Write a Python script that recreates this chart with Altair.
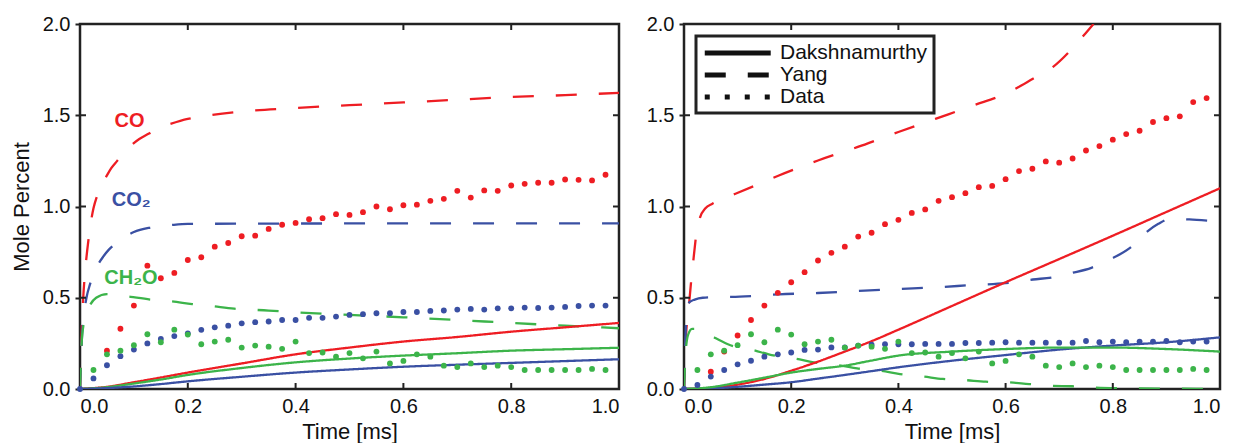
import altair as alt
import pandas as pd

RED = "#ee1d23"
BLUE = "#3a50a3"
GREEN = "#3cb44a"
FONT = "Liberation Sans"

SPECIES = ["CO", "CO2", "CH2O"]
MODELS = ["Dakshnamurthy", "Yang", "Data"]

# experimental sampling times (ms)
data_t = [0.0, 0.025, 0.05, 0.075, 0.1, 0.125, 0.15, 0.175, 0.2, 0.225, 0.25, 0.275,
          0.3, 0.325, 0.35, 0.375, 0.4, 0.425, 0.45, 0.475, 0.5, 0.525, 0.55, 0.575,
          0.6, 0.625, 0.65, 0.675, 0.7, 0.725, 0.75, 0.775, 0.8, 0.825, 0.85, 0.875,
          0.9, 0.925, 0.95, 0.975]

# ---------------- left panel ----------------
a_co_data = [None, None, 0.21, 0.33, 0.457, 0.676, 0.607, 0.636, 0.707, 0.722, 0.78, 0.80,
             0.837, 0.84, 0.877, 0.90, 0.91, 0.93, 0.936, 0.958, 0.954, 0.969, 1.0, 0.985,
             1.007, 1.01, 1.031, 1.042, 1.086, 1.049, 1.088, 1.086, 1.115, 1.124, 1.13, 1.13,
             1.148, 1.146, 1.143, 1.174]
a_co2_data = [0.0, 0.058, 0.13, 0.18, 0.216, 0.25, 0.274, 0.29, 0.305, 0.324, 0.338, 0.347,
              0.36, 0.366, 0.37, 0.378, 0.378, 0.39, 0.39, 0.397, 0.406, 0.41, 0.415, 0.415,
              0.422, 0.422, 0.428, 0.43, 0.435, 0.439, 0.435, 0.442, 0.442, 0.446, 0.444, 0.446,
              0.45, 0.455, 0.457, 0.457]
ch2o_data = [None, 0.104, 0.19, 0.21, 0.24, 0.30, 0.256, 0.325, 0.298, 0.245, 0.26, 0.27,
             0.227, 0.238, 0.232, 0.22, 0.26, 0.197, 0.20, 0.177, 0.197, 0.168, 0.205, 0.14,
             0.154, 0.19, 0.177, 0.128, 0.12, 0.14, 0.12, 0.128, 0.12, 0.104, 0.104, 0.104,
             0.104, 0.104, 0.11, 0.104]

a_co_yang_t = [0, 0.003, 0.006, 0.01, 0.015, 0.02, 0.025, 0.032, 0.04, 0.048, 0.058, 0.069,
               0.08, 0.093, 0.11, 0.128, 0.145, 0.165, 0.2, 0.242, 0.3, 0.4, 0.5, 0.6, 0.7,
               0.8, 0.9, 1.0]
a_co_yang = [0, 0.30, 0.50, 0.66, 0.80, 0.91, 0.99, 1.06, 1.12, 1.16, 1.21, 1.25,
             1.29, 1.33, 1.37, 1.40, 1.43, 1.45, 1.48, 1.50, 1.52, 1.54, 1.555, 1.57, 1.585,
             1.60, 1.61, 1.623]
a_co2_yang_t = [0, 0.003, 0.007, 0.012, 0.0185, 0.025, 0.032, 0.043, 0.054, 0.068, 0.082,
                0.1, 0.131, 0.168, 0.2, 0.5, 1.0]
a_co2_yang = [0, 0.25, 0.40, 0.50, 0.573, 0.63, 0.674, 0.725, 0.765, 0.80, 0.83,
              0.86, 0.885, 0.898, 0.905, 0.907, 0.907]
a_ch2o_yang_t = [0, 0.003, 0.007, 0.012, 0.0185, 0.03, 0.05, 0.07, 0.094, 0.131, 0.171,
                 0.208, 0.242, 0.286, 0.35, 0.4, 0.5, 0.6, 0.7, 0.8, 0.9, 1.0]
a_ch2o_yang = [0, 0.25, 0.36, 0.42, 0.46, 0.50, 0.52, 0.515, 0.505, 0.49, 0.48,
               0.465, 0.455, 0.44, 0.43, 0.42, 0.406, 0.393, 0.378, 0.362, 0.347, 0.333]

dak_t = [0, 0.05, 0.1, 0.15, 0.2, 0.3, 0.4, 0.5, 0.6, 0.7, 0.8, 0.9, 1.0]
a_co_dak = [0, 0.012, 0.037, 0.063, 0.09, 0.14, 0.19, 0.227, 0.26, 0.285, 0.314, 0.338, 0.362]
a_ch2o_dak = [0, 0.01, 0.03, 0.052, 0.077, 0.115, 0.146, 0.167, 0.183, 0.196, 0.21, 0.218, 0.226]
a_co2_dak = [0, 0.005, 0.014, 0.027, 0.042, 0.067, 0.09, 0.107, 0.122, 0.133, 0.143, 0.153, 0.163]

# ---------------- right panel ----------------
b_co_data = [None, None, 0.095, 0.205, 0.293, 0.378, 0.457, 0.527, 0.585, 0.64, 0.704, 0.746,
             0.78, 0.835, 0.856, 0.903, 0.927, 0.965, 0.984, 1.031, 1.051, 1.073, 1.106, 1.113,
             1.15, 1.194, 1.207, 1.247, 1.24, 1.263, 1.307, 1.331, 1.366, 1.397, 1.415, 1.463,
             1.484, 1.494, 1.572, 1.594]
b_co2_data = [0.0, 0.022, 0.068, 0.104, 0.135, 0.155, 0.177, 0.19, 0.20, 0.214, 0.216, 0.228,
              0.228, 0.238, 0.243, 0.245, 0.245, 0.245, 0.247, 0.247, 0.247, 0.252, 0.252, 0.254,
              0.256, 0.254, 0.254, 0.254, 0.254, 0.254, 0.263, 0.256, 0.26, 0.256, 0.26, 0.26,
              0.263, 0.256, 0.26, 0.26]

b_co_yang_t = [0, 0.004, 0.009, 0.013, 0.018, 0.023, 0.03, 0.04, 0.053, 0.075, 0.096, 0.133,
               0.177, 0.25, 0.323, 0.4, 0.469, 0.54, 0.6, 0.651, 0.688, 0.724, 0.746, 0.764]
b_co_yang = [0, 0.30, 0.45, 0.58, 0.72, 0.85, 0.94, 0.99, 1.015, 1.045, 1.07, 1.115,
             1.17, 1.252, 1.325, 1.408, 1.48, 1.554, 1.618, 1.70, 1.764, 1.865, 1.938, 2.0]
b_co2_yang_t = [0, 0.003, 0.005, 0.01, 0.02, 0.035, 0.06, 0.104, 0.177, 0.25, 0.323, 0.4,
                0.469, 0.54, 0.6, 0.651, 0.688, 0.724, 0.76, 0.797, 0.834, 0.863, 0.885,
                0.907, 0.943, 0.976]
b_co2_yang = [0, 0.30, 0.44, 0.475, 0.49, 0.50, 0.503, 0.506, 0.519, 0.526, 0.537, 0.548,
              0.557, 0.57, 0.58, 0.60, 0.612, 0.636, 0.664, 0.713, 0.777, 0.86, 0.905,
              0.932, 0.929, 0.923]
b_ch2o_yang_t = [0, 0.003, 0.008, 0.015, 0.027, 0.04, 0.058, 0.082, 0.133, 0.158, 0.21, 0.242,
                 0.293, 0.323, 0.366, 0.403, 0.447, 0.483, 0.523, 0.563, 0.604, 0.644, 0.684,
                 0.724, 0.76, 0.834, 0.9, 1.0]
b_ch2o_yang = [0, 0.20, 0.30, 0.33, 0.33, 0.31, 0.28, 0.245, 0.21, 0.19, 0.165, 0.146,
               0.128, 0.113, 0.10, 0.082, 0.068, 0.055, 0.049, 0.04, 0.037, 0.027, 0.018,
               0.015, 0.009, 0.004, 0.002, 0.0]

b_dak_t = [0, 0.05, 0.1, 0.15, 0.2, 0.25, 0.3, 0.35, 0.4, 0.5, 0.6, 0.7, 0.8, 0.9, 1.0]
b_co_dak = [0, 0.006, 0.024, 0.055, 0.1, 0.15, 0.205, 0.262, 0.325, 0.455, 0.585, 0.712, 0.84, 0.97, 1.1]
b_co2_dak = [0, 0.003, 0.012, 0.024, 0.037, 0.057, 0.077, 0.098, 0.119, 0.155, 0.186, 0.216, 0.238, 0.256, 0.283]
b_ch2o_dak = [0, 0.01, 0.035, 0.062, 0.09, 0.11, 0.128, 0.156, 0.183, 0.205, 0.219, 0.227, 0.227, 0.219, 0.205]

# species labels (left panel)
label_text = ["CO", "CO\u2082", "CH\u2082O"]
label_species = ["CO", "CO2", "CH2O"]
label_t = [0.064, 0.059, 0.045]
label_y = [1.468, 1.034, 0.61]

x_ticks = [0.0, 0.2, 0.4, 0.6, 0.8, 1.0]
y_ticks = [0.0, 0.5, 1.0, 1.5, 2.0]
x_inner_ticks = [0.2, 0.4, 0.6, 0.8]
y_inner_ticks = [0.5, 1.0, 1.5]

H = 365


def lines_frame(curves):
    rows = []
    for species, model, ts, ys in curves:
        for t, y in zip(ts, ys):
            rows.append({"t": t, "y": y, "species": species, "model": model})
    return pd.DataFrame(rows)


def points_frame(series):
    rows = []
    for species, ys in series:
        for t, y in zip(data_t, ys):
            if y is not None:
                rows.append({"t": t, "y": y, "species": species})
    return pd.DataFrame(rows)


def panel(curves, series, width, show_title, show_legend, labels):
    x = alt.X("t:Q", scale=alt.Scale(domain=[0, 1], nice=False),
              axis=alt.Axis(values=x_ticks, format=".1f", title="Time [ms]", grid=False,
                            domain=False, ticks=False, labelPadding=7, titlePadding=5))
    y = alt.Y("y:Q", scale=alt.Scale(domain=[0, 2], nice=False),
              axis=alt.Axis(values=y_ticks, format=".1f",
                            title="Mole Percent" if show_title else None,
                            grid=False, domain=False, tickSize=5, tickWidth=2,
                            tickColor="#222", labelPadding=5, titlePadding=9))
    color = alt.Color("species:N", scale=alt.Scale(domain=SPECIES, range=[RED, BLUE, GREEN]),
                      legend=None)
    if show_legend:
        leg = alt.Legend(title=None, orient="top-left", offset=12, symbolType="M-1,0H7",
                         symbolSize=272, symbolStrokeWidth=5, symbolStrokeColor="#111",
                         labelFontSize=21, labelFont=FONT, labelColor="#111",
                         labelOffset=56, strokeColor="#222", padding=6, rowPadding=1,
                         fillColor="white")
    else:
        leg = None
    dash = alt.StrokeDash("model:N",
                          scale=alt.Scale(domain=MODELS, range=[[1, 0], [21, 22], [5, 15]]),
                          legend=leg)

    lines = alt.Chart(lines_frame(curves)).mark_line(
        strokeWidth=2.3, interpolate="monotone", clip=True
    ).encode(x=x, y=y, color=color, strokeDash=dash, detail="model:N")

    pts = alt.Chart(points_frame(series)).mark_circle(size=34, opacity=1).encode(
        x="t:Q", y="y:Q", color=color)

    xt = pd.DataFrame({"t": x_inner_ticks})
    yt = pd.DataFrame({"y": y_inner_ticks})
    tick_style = dict(color="#222", strokeWidth=2)
    bottom = alt.Chart(xt).mark_rule(**tick_style).encode(
        x="t:Q", y=alt.value(H), y2=alt.value(H - 6))
    top = alt.Chart(xt).mark_rule(**tick_style).encode(
        x="t:Q", y=alt.value(0), y2=alt.value(6))
    left = alt.Chart(yt).mark_rule(**tick_style).encode(
        y="y:Q", x=alt.value(0), x2=alt.value(6))
    right = alt.Chart(yt).mark_rule(**tick_style).encode(
        y="y:Q", x=alt.value(width - 6), x2=alt.value(width))

    layers = [lines, pts, bottom, top, left, right]
    if labels:
        ldf = pd.DataFrame({"t": label_t, "y": label_y, "text": label_text,
                            "species": label_species})
        txt = alt.Chart(ldf).mark_text(align="left", baseline="middle", fontSize=20,
                                       fontWeight="bold", font=FONT).encode(
            x="t:Q", y="y:Q", text="text:N", color=color)
        layers.append(txt)
    return alt.layer(*layers).properties(width=width, height=H)


left_curves = [
    ("CO", "Yang", a_co_yang_t, a_co_yang),
    ("CO2", "Yang", a_co2_yang_t, a_co2_yang),
    ("CH2O", "Yang", a_ch2o_yang_t, a_ch2o_yang),
    ("CO", "Dakshnamurthy", dak_t, a_co_dak),
    ("CH2O", "Dakshnamurthy", dak_t, a_ch2o_dak),
    ("CO2", "Dakshnamurthy", dak_t, a_co2_dak),
]
right_curves = [
    ("CO", "Yang", b_co_yang_t, b_co_yang),
    ("CO2", "Yang", b_co2_yang_t, b_co2_yang),
    ("CH2O", "Yang", b_ch2o_yang_t, b_ch2o_yang),
    ("CO", "Dakshnamurthy", b_dak_t, b_co_dak),
    ("CO2", "Dakshnamurthy", b_dak_t, b_co2_dak),
    ("CH2O", "Dakshnamurthy", b_dak_t, b_ch2o_dak),
]

left_chart = panel(left_curves, [("CO", a_co_data), ("CO2", a_co2_data), ("CH2O", ch2o_data)],
                   539, True, False, True)
right_chart = panel(right_curves, [("CO", b_co_data), ("CO2", b_co2_data), ("CH2O", ch2o_data)],
                    536, False, True, False)

chart = alt.hconcat(left_chart, right_chart, spacing=65, bounds="flush").resolve_scale(
    strokeDash="independent", color="independent"
).resolve_legend(strokeDash="independent").properties(
    padding={"left": 0, "top": 4, "right": 5, "bottom": 5}
).configure_view(
    stroke="#222", strokeWidth=2.5
).configure_axis(
    labelFont=FONT, titleFont=FONT, labelFontSize=20, titleFontSize=22,
    labelColor="#111", titleColor="#111", titleFontWeight="normal"
).configure_legend(
    strokeWidth=3
)

chart.save("out.html", embed_options={"renderer": "svg", "actions": False})
